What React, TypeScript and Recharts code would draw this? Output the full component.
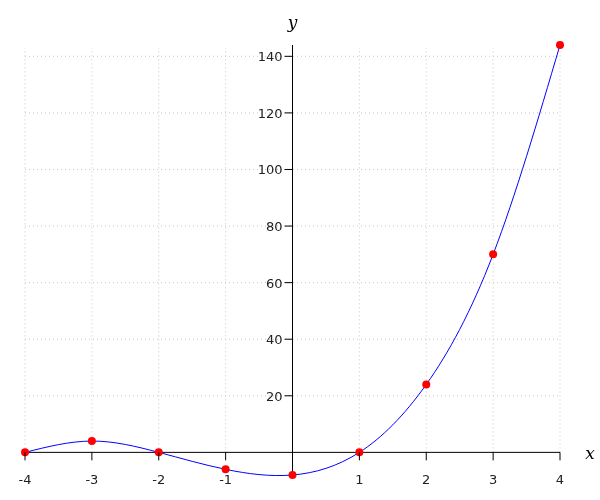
import React from 'react'
import {
  ComposedChart,
  Line,
  XAxis,
  YAxis,
  ReferenceLine,
  ReferenceDot,
} from 'recharts'

const xValues = [-4, -3, -2, -1, 0, 1, 2, 3, 4]
const yValues = [0, 4, 0, -6, -8, 0, 24, 70, 144]
const xTickLabels = [-4, -3, -2, -1, 1, 2, 3, 4]
const yTickLabels = [20, 40, 60, 80, 100, 120, 140]

const data = xValues.map((x, i) => ({ x, y: yValues[i] }))

const font = '"DejaVu Sans", sans-serif'
const gridColor = '#c8c8c8'

function XTick(props: any) {
  const { cx, cy, label } = props
  return (
    <g>
      <line x1={cx} y1={cy} x2={cx} y2={cy + 8} stroke="#000" strokeWidth={1} />
      <text x={cx} y={cy + 32} textAnchor="middle" fontFamily={font} fontSize={13} fill="#222">
        {label}
      </text>
    </g>
  )
}

function YTick(props: any) {
  const { cx, cy, label } = props
  return (
    <g>
      <line x1={cx - 8} y1={cy} x2={cx} y2={cy} stroke="#000" strokeWidth={1} />
      <text x={cx - 10} y={cy + 5} textAnchor="end" fontFamily={font} fontSize={13} fill="#222">
        {label}
      </text>
    </g>
  )
}

export default function App() {
  return (
    <div style={{ position: 'fixed', left: 0, top: 0, width: 600, height: 500 }}>
      <ComposedChart
        width={600}
        height={500}
        data={data}
        margin={{ top: 45, right: 40, bottom: 25, left: 25 }}
      >
        <XAxis dataKey="x" type="number" domain={[-4, 4]} ticks={xValues} hide />
        <YAxis type="number" domain={[-8, 144]} ticks={yTickLabels} hide />
        {/* dotted grid, only above the x axis */}
        {yTickLabels.map((v) => (
          <ReferenceLine
            key={`h${v}`}
            segment={[{ x: -4, y: v }, { x: 4, y: v }]}
            stroke={gridColor}
            strokeDasharray="1 3"
          />
        ))}
        {xValues.map((v) => (
          <ReferenceLine
            key={`v${v}`}
            segment={[{ x: v, y: 0 }, { x: v, y: 143 }]}
            stroke={gridColor}
            strokeDasharray="1 3"
          />
        ))}
        <ReferenceLine x={0} stroke="#000" strokeWidth={1} />
        <ReferenceLine segment={[{ x: -4, y: 0 }, { x: 4, y: 0 }]} stroke="#000" strokeWidth={1} />
        <Line
          dataKey="y"
          type="natural"
          stroke="#0000ff"
          strokeWidth={1}
          dot={{ r: 4, fill: '#ff0000', stroke: 'none' }}
          activeDot={false}
          isAnimationActive={false}
        />
        {xTickLabels.map((v) => (
          <ReferenceDot
            key={`x${v}`}
            x={v}
            y={0}
            r={0}
            shape={(p: any) => <XTick {...p} label={v} />}
          />
        ))}
        {yTickLabels.map((v) => (
          <ReferenceDot
            key={`y${v}`}
            x={0}
            y={v}
            r={0}
            shape={(p: any) => <YTick {...p} label={v} />}
          />
        ))}
        <ReferenceDot
          x={0}
          y={144}
          r={0}
          shape={(p: any) => (
            <text x={p.cx} y={p.cy - 17} textAnchor="middle" fontFamily='"DejaVu Serif", serif' fontStyle="italic" fontSize={17} fill="#000">
              y
            </text>
          )}
        />
        <ReferenceDot
          x={4}
          y={0}
          r={0}
          shape={(p: any) => (
            <text x={p.cx + 30} y={p.cy + 7} textAnchor="middle" fontFamily='"DejaVu Serif", serif' fontStyle="italic" fontSize={17} fill="#000">
              x
            </text>
          )}
        />
      </ComposedChart>
    </div>
  )
}
